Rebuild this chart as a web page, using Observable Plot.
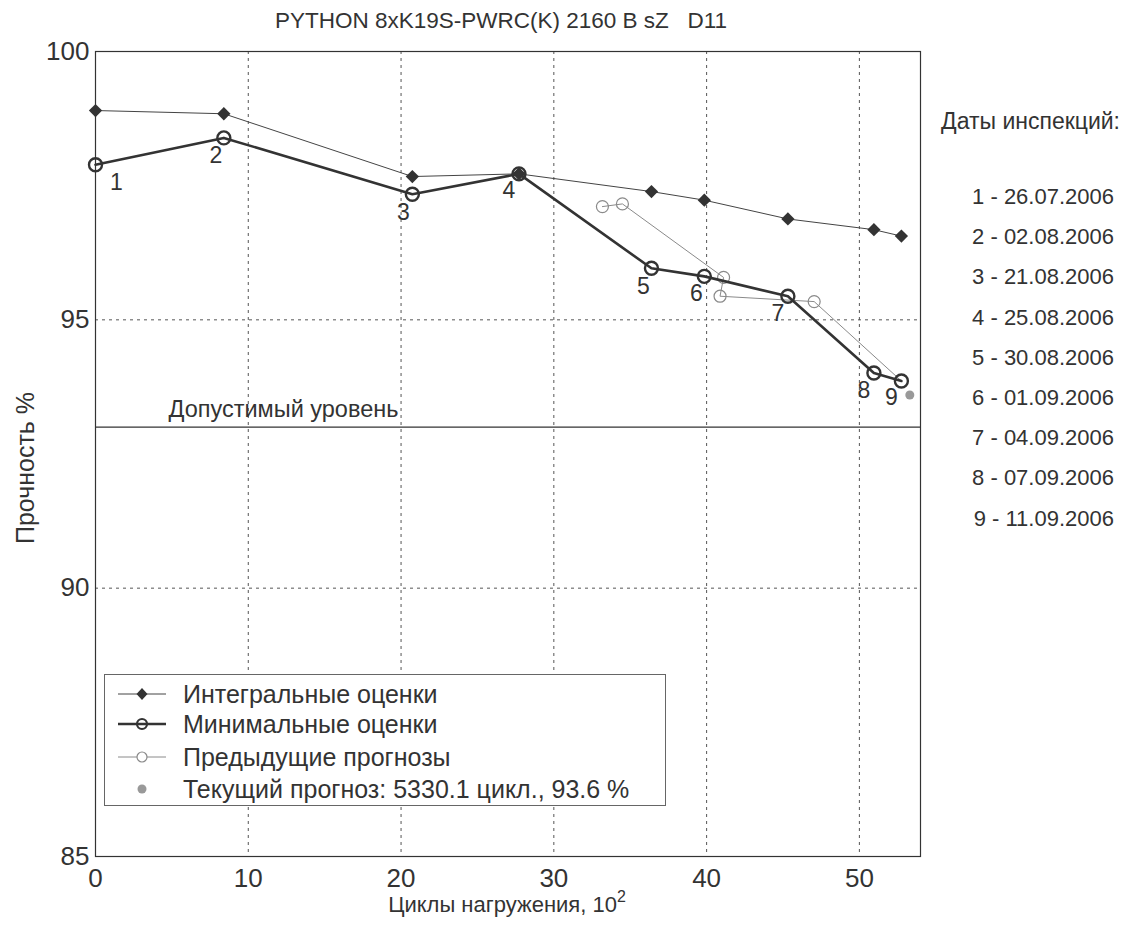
<!DOCTYPE html>
<html>
<head>
<meta charset="utf-8">
<script src="https://cdn.jsdelivr.net/npm/d3@7"></script>
<script src="https://cdn.jsdelivr.net/npm/@observablehq/plot@0.6"></script>
<style>
  html, body { margin: 0; padding: 0; background: #fff; }
  body { width: 1126px; height: 938px; position: relative; overflow: hidden;
         font-family: "Liberation Sans", Arial, sans-serif; color: #333; }
  #chart { position: absolute; left: 0; top: 0; }
  .abs { position: absolute; white-space: nowrap; }
  #legend { position: absolute; left: 104px; top: 674px; width: 562px; height: 132px;
            border: 1px solid #666; background: #fff; box-sizing: border-box; }
  .lrow { position: absolute; left: 0; height: 30px; display: flex; align-items: center; }
  .lrow svg { margin-left: 12px; }
  .lrow span { margin-left: 16px; font-size: 25px; color: #333; }
</style>
</head>
<body>
<div id="chart"></div>
<script>
// ---- data ----
const inspections = ["1","2","3","4","5","6","7","8","9"];
const cycles     = [0, 8.40, 20.74, 27.72, 36.39, 39.85, 45.32, 50.95, 52.75];
const integral   = [98.90, 98.84, 97.67, 97.72, 97.39, 97.23, 96.88, 96.68, 96.56];
const minimal    = [97.89, 98.39, 97.34, 97.72, 95.96, 95.81, 95.44, 94.01, 93.86];
const prevX      = [33.18, 34.49, 41.11, 40.88, 47.04, 52.75];
const prevY      = [97.11, 97.16, 95.79, 95.44, 95.34, 93.86];
const currentX   = [53.30];
const currentY   = [93.6];
const threshold  = 93;
const xTicks     = [0, 10, 20, 30, 40, 50];
const yTicks     = [85, 90, 95, 100];
const gridX      = [10, 20, 30, 40, 50];
const gridY      = [90, 95];
const dates      = ["1 - 26.07.2006","2 - 02.08.2006","3 - 21.08.2006","4 - 25.08.2006",
                    "5 - 30.08.2006","6 - 01.09.2006","7 - 04.09.2006","8 - 07.09.2006","9 - 11.09.2006"];
const title      = "PYTHON 8xK19S-PWRC(K) 2160 B sZ   D11";
const yLabel     = "Прочность %";
const legendLabels = ["Интегральные оценки","Минимальные оценки","Предыдущие прогнозы",
                      "Текущий прогноз: 5330.1 цикл., 93.6 %"];
// label offsets (px) for inspection numbers
const labelDx = [21, -8, -9, -10, -8, -8, -10, -10, -10];
const labelDy = [18, 18, 18, 17, 18, 17, 17, 18, 17];

const integralData = cycles.map((x, i) => ({x, y: integral[i]}));
const minimalData  = cycles.map((x, i) => ({x, y: minimal[i], label: inspections[i]}));
const prevData     = prevX.map((x, i) => ({x, y: prevY[i]}));
const currentData  = currentX.map((x, i) => ({x, y: currentY[i]}));

const chart = Plot.plot({
  width: 1126, height: 938,
  marginLeft: 95, marginRight: 206, marginTop: 51, marginBottom: 82,
  style: {fontFamily: "'Liberation Sans', Arial, sans-serif", color: "#333", background: "#fff", overflow: "visible"},
  x: {domain: [0, 54]},
  y: {domain: [85, 100]},
  marks: [
    Plot.ruleX(gridX, {stroke: "#555", strokeWidth: 1, strokeDasharray: "3,4"}),
    Plot.ruleY(gridY, {stroke: "#555", strokeWidth: 1, strokeDasharray: "3,4"}),
    Plot.ruleY([threshold], {stroke: "#333", strokeWidth: 1.3}),
    Plot.text(["Допустимый уровень"], {y: () => threshold, text: d => d, frameAnchor: "left",
      dx: 73, dy: -18, textAnchor: "start", fontSize: 23.5, fill: "#333"}),
    Plot.axisX({ticks: xTicks, tickSize: 0, tickPadding: 12, fontSize: 26, label: null}),
    Plot.axisY({ticks: yTicks, tickSize: 0, tickPadding: 6, fontSize: 26, label: null}),
    Plot.frame({stroke: "#333", strokeWidth: 1.2}),
    // previous forecasts
    Plot.line(prevData, {x: "x", y: "y", stroke: "#8a8a8a", strokeWidth: 1}),
    Plot.dot(prevData.slice(0, 5), {x: "x", y: "y", r: 6, stroke: "#8a8a8a", strokeWidth: 1.2, fill: "none"}),
    // integral estimates
    Plot.line(integralData, {x: "x", y: "y", stroke: "#444", strokeWidth: 1}),
    Plot.dot(integralData, {x: "x", y: "y", symbol: "square", rotate: 45, r: 5.3, fill: "#333", stroke: "none"}),
    // minimal estimates
    Plot.line(minimalData, {x: "x", y: "y", stroke: "#333", strokeWidth: 2.6}),
    Plot.dot(minimalData, {x: "x", y: "y", r: 6.5, stroke: "#333", strokeWidth: 2.4, fill: "none"}),
    // current forecast
    Plot.dot(currentData, {x: "x", y: "y", r: 4.5, fill: "#999", stroke: "none"}),
    // inspection number labels
    ...minimalData.map((d, i) => Plot.text([d], {x: "x", y: "y", text: "label",
      dx: labelDx[i], dy: labelDy[i], fontSize: 23, fill: "#333"}))
  ]
});
document.getElementById("chart").append(chart);

// title
const t = document.createElement("div");
t.className = "abs";
t.style.cssText = "left:0;width:1002px;text-align:center;top:8px;font-size:22.5px;white-space:pre;";
t.textContent = title;
document.body.append(t);

// y axis label
const yl = document.createElement("div");
yl.className = "abs";
yl.style.cssText = "left:25px;top:468px;font-size:25px;transform:translate(-50%,-50%) rotate(-90deg);";
yl.textContent = yLabel;
document.body.append(yl);

// x axis label
const xl = document.createElement("div");
xl.className = "abs";
xl.style.cssText = "left:95px;width:824px;text-align:center;top:892px;font-size:22px;";
xl.innerHTML = "Циклы нагружения, 10<sup style='font-size:16px;vertical-align:10px;line-height:0'>2</sup>";
document.body.append(xl);

// right side dates
const hd = document.createElement("div");
hd.className = "abs";
hd.style.cssText = "right:6px;top:108px;font-size:23px;";
hd.textContent = "Даты инспекций:";
document.body.append(hd);
dates.forEach((d, i) => {
  const e = document.createElement("div");
  e.className = "abs";
  e.style.cssText = `right:12px;top:${184 + i * 40.2}px;font-size:22px;`;
  e.textContent = d;
  document.body.append(e);
});

// legend
const lg = document.createElement("div");
lg.id = "legend";
const syms = [
  `<svg width="50" height="20"><line x1="1" y1="10" x2="49" y2="10" stroke="#444" stroke-width="1"/><path d="M25,4 L30.5,10 L25,16 L19.5,10 Z" fill="#333"/></svg>`,
  `<svg width="50" height="20"><line x1="1" y1="10" x2="49" y2="10" stroke="#333" stroke-width="2.6"/><circle cx="25" cy="10" r="5" fill="none" stroke="#333" stroke-width="2.2"/></svg>`,
  `<svg width="50" height="20"><line x1="1" y1="10" x2="49" y2="10" stroke="#8a8a8a" stroke-width="1"/><circle cx="25" cy="10" r="5" fill="#fff" stroke="#8a8a8a" stroke-width="1.2"/></svg>`,
  `<svg width="50" height="20"><circle cx="25" cy="10" r="4.5" fill="#999"/></svg>`
];
const rowTops = [4, 34, 67, 99];
legendLabels.forEach((l, i) => {
  const r = document.createElement("div");
  r.className = "lrow";
  r.style.top = rowTops[i] + "px";
  r.innerHTML = syms[i] + `<span>${l}</span>`;
  lg.append(r);
});
document.body.append(lg);
</script>
</body>
</html>
